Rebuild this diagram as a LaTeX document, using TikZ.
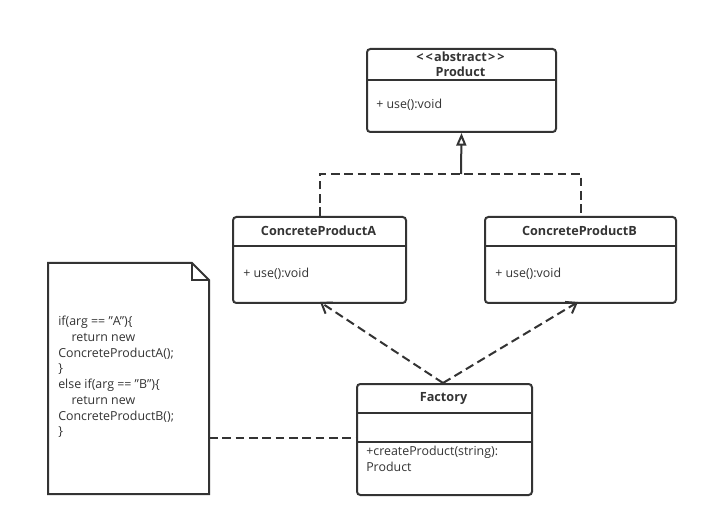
\documentclass[tikz,border=0pt]{standalone}
\usepackage{fontspec}
\setmainfont{Open Sans}
\usetikzlibrary{arrows.meta}
\definecolor{ln}{HTML}{333333}
\newcommand{\qq}{\symbol{34}}
\begin{document}
\begin{tikzpicture}[x=0.75pt,y=-0.75pt,
  box/.style={draw=ln,line width=1.5pt,rounded corners=2.5pt,inner sep=0pt,anchor=north west},
  sep/.style={draw=ln,line width=1.5pt},
  title/.style={font=\fontsize{9.5}{11}\selectfont\bfseries,text=ln,inner sep=0pt},
  member/.style={font=\fontsize{9.3}{11.5}\selectfont,text=ln,inner sep=0pt,anchor=west,align=left},
  dline/.style={draw=ln,line width=1.5pt,dash pattern=on 6.5pt off 3.5pt},
  sline/.style={draw=ln,line width=1.5pt}]
\useasboundingbox (0,0) rectangle (707,527);
% Product
\node[box,minimum width=189*0.75pt,minimum height=83*0.75pt] (P) at (366,48) {};
\draw[sep] (366,80) -- (555,80);
\node[title] (Pt1) at (460.5,57) {\symbol{60}\kern1.5pt\symbol{60}\kern1pt abstract\kern1pt\symbol{62}\kern1.5pt\symbol{62}};
\node[title] (Pt2) at (460.5,72) {Product};
\node[member] (Pm) at (376,105) {+ use():void};
% ConcreteProductA
\node[box,minimum width=173*0.75pt,minimum height=86*0.75pt] (A) at (232,216) {};
\draw[sep] (232,246) -- (405,246);
\node[title] (At) at (318.5,231) {ConcreteProductA};
\node[member] (Am) at (243,274) {+ use():void};
% ConcreteProductB
\node[box,minimum width=191*0.75pt,minimum height=86*0.75pt] (B) at (484,216) {};
\draw[sep] (484,246) -- (675,246);
\node[title] (Bt) at (579.5,231) {ConcreteProductB};
\node[member] (Bm) at (495,274) {+ use():void};
% Factory
\node[box,minimum width=175*0.75pt,minimum height=111*0.75pt] (F) at (356,383) {};
\draw[sep] (356,413) -- (531,413);
\draw[sep] (356,442) -- (531,442);
\node[title] (Ft) at (443.5,398) {Factory};
\node[member] (Fm) at (366,459) {+createProduct(string):\\Product};
% Note
\draw[sline,line join=miter] (48,263) -- (192,263) -- (209,280) -- (209,494) -- (48,494) -- cycle;
\draw[sline] (192,263) -- (192,280) -- (209,280);
\node[inner sep=0pt,anchor=north west,minimum width=161*0.75pt,minimum height=231*0.75pt] (N) at (48,263) {};
\node[member,anchor=north west,font=\fontsize{9.3}{11.8}\selectfont] (Nt) at (58,316) {if(arg ==\ \qq A\qq)\{\\\hspace*{10pt}return new\\ConcreteProductA();\\\}\\else if(arg ==\ \qq B\qq)\{\\\hspace*{10pt}return new\\ConcreteProductB();\\\}};
% connectors
\coordinate (j) at (461,174);
\coordinate (nr) at (209,438);
\coordinate (fl) at (356,438);
\draw[dline] (A.north) |- (j) -| (B.north);
\draw[sline,-{Triangle[open,length=9.5pt,width=7.5pt]}] (j) -- (P.south);
\draw[dline] (nr) -- (fl);
\coordinate (ft) at (443,383);
\coordinate (ab) at (320,302);
\coordinate (bb) at (578,302);
\draw[dline,-{Straight Barb[length=7pt,width=10pt]}] (ft) -- (ab);
\draw[dline,-{Straight Barb[length=7pt,width=10pt]}] (ft) -- (bb);
\end{tikzpicture}
\end{document}
